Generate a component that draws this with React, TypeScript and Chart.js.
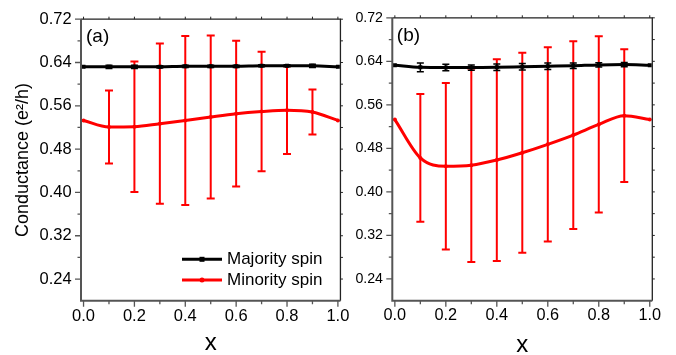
import React, { useEffect, useRef } from "react";
import { Chart, registerables } from "chart.js";

Chart.register(...registerables);

const FONT = "'Liberation Sans', Arial, Helvetica, sans-serif";

// ---------- data ----------
const xValues = [0, 0.1, 0.2, 0.3, 0.4, 0.5, 0.6, 0.7, 0.8, 0.9, 1.0];

const aMajority = [0.632, 0.632, 0.632, 0.632, 0.633, 0.633, 0.633, 0.634, 0.634, 0.634, 0.632];
const aMajorityErr = [0, 0.003, 0.003, 0.002, 0.002, 0.002, 0.002, 0.002, 0.002, 0.003, 0];
const aMinority = [0.533, 0.521, 0.5215, 0.527, 0.533, 0.5395, 0.5455, 0.5495, 0.552, 0.5485, 0.533];
const aMinorityErr = [0, 0.0675, 0.1205, 0.148, 0.156, 0.1505, 0.1345, 0.1105, 0.081, 0.0415, 0];

const bMajority = [0.633, 0.629, 0.6285, 0.6285, 0.629, 0.63, 0.631, 0.632, 0.6335, 0.634, 0.633];
const bMajorityErr = [0, 0.008, 0.006, 0.005, 0.006, 0.006, 0.006, 0.005, 0.004, 0.004, 0];
const bMinority = [0.533, 0.4625, 0.447, 0.449, 0.4585, 0.472, 0.4875, 0.5045, 0.524, 0.54, 0.533];
const bMinorityErr = [0, 0.1175, 0.153, 0.178, 0.1855, 0.184, 0.1785, 0.1725, 0.162, 0.122, 0];

const yTicks = [0.24, 0.32, 0.4, 0.48, 0.56, 0.64, 0.72];
const yMinorTicks = [0.28, 0.36, 0.44, 0.52, 0.6, 0.68];
const xTicks = [0, 0.2, 0.4, 0.6, 0.8, 1.0];
const xMinorTicks = [0.1, 0.3, 0.5, 0.7, 0.9];

const seriesNames = ["Majority spin", "Minority spin"];
const panelLabels = ["(a)", "(b)"];
const yTitle = "Conductance (e\u00B2/h)";
const xTitle = "x";

// ---------- plugins ----------
const errorBarPlugin = {
  id: "errorBars",
  beforeDatasetDraw(chart: any, args: any) {
    const ds: any = chart.data.datasets[args.index];
    const errs: number[] | undefined = ds.errors;
    if (!errs) return;
    const ys = chart.scales.y;
    const ctx = chart.ctx;
    const area = chart.chartArea;
    ctx.save();
    ctx.beginPath();
    ctx.rect(area.left, area.top - 2, area.right - area.left, area.bottom - area.top + 4);
    ctx.clip();
    ctx.strokeStyle = ds.borderColor;
    ctx.lineWidth = ds.errorWidth;
    const c = ds.capHalf;
    args.meta.data.forEach((pt: any, i: number) => {
      const e = errs[i];
      if (!e) return;
      const v = ds.data[i].y;
      const top = ys.getPixelForValue(v + e);
      const bot = ys.getPixelForValue(v - e);
      const x = pt.x;
      ctx.beginPath();
      ctx.moveTo(x, top);
      ctx.lineTo(x, bot);
      ctx.moveTo(x - c, top);
      ctx.lineTo(x + c, top);
      ctx.moveTo(x - c, bot);
      ctx.lineTo(x + c, bot);
      ctx.stroke();
    });
    ctx.restore();
  },
};

const framePlugin = {
  id: "frame",
  afterDatasetsDraw(chart: any) {
    const { ctx, chartArea: a } = chart;
    const xs = chart.scales.x;
    const ys = chart.scales.y;
    ctx.save();
    // top/right
    ctx.strokeStyle = "#222";
    ctx.lineWidth = 1.3;
    ctx.beginPath();
    ctx.moveTo(a.left, a.top);
    ctx.lineTo(a.right, a.top);
    ctx.lineTo(a.right, a.bottom);
    ctx.stroke();
    // small outward ticks top/right
    ctx.lineWidth = 1;
    ctx.beginPath();
    [...xTicks, ...xMinorTicks].forEach((v) => {
      const px = xs.getPixelForValue(v);
      ctx.moveTo(px, a.top);
      ctx.lineTo(px, a.top - 2.5);
    });
    [...yTicks, ...yMinorTicks].forEach((v) => {
      const py = ys.getPixelForValue(v);
      ctx.moveTo(a.right, py);
      ctx.lineTo(a.right + 2.5, py);
    });
    ctx.stroke();
    // left/bottom axes
    ctx.strokeStyle = "#555";
    ctx.lineWidth = 2;
    ctx.beginPath();
    ctx.moveTo(a.left, a.top);
    ctx.lineTo(a.left, a.bottom);
    ctx.lineTo(a.right, a.bottom);
    ctx.stroke();
    ctx.lineWidth = 1.3;
    ctx.beginPath();
    yTicks.forEach((v) => {
      const py = ys.getPixelForValue(v);
      ctx.moveTo(a.left, py);
      ctx.lineTo(a.left - 6, py);
    });
    yMinorTicks.forEach((v) => {
      const py = ys.getPixelForValue(v);
      ctx.moveTo(a.left, py);
      ctx.lineTo(a.left - 3.5, py);
    });
    xTicks.forEach((v) => {
      const px = xs.getPixelForValue(v);
      ctx.moveTo(px, a.bottom);
      ctx.lineTo(px, a.bottom + 6);
    });
    xMinorTicks.forEach((v) => {
      const px = xs.getPixelForValue(v);
      ctx.moveTo(px, a.bottom);
      ctx.lineTo(px, a.bottom + 3.5);
    });
    ctx.stroke();
    ctx.restore();
  },
};

const panelLabelPlugin = {
  id: "panelLabel",
  afterDraw(chart: any, _args: any, opts: any) {
    const { ctx, chartArea: a } = chart;
    ctx.save();
    ctx.fillStyle = "#000";
    ctx.font = `19px ${FONT}`;
    ctx.textAlign = "left";
    ctx.textBaseline = "middle";
    ctx.fillText(opts.text, a.left + opts.dx, a.top + 17.5);
    ctx.restore();
  },
};

const legendPlugin = {
  id: "customLegend",
  afterDraw(chart: any, _args: any, opts: any) {
    if (!opts.show) return;
    const { ctx, chartArea: a } = chart;
    const items = chart.data.datasets.map((ds: any) => ({
      label: ds.label,
      color: ds.borderColor,
      style: ds.pointStyle,
    }));
    ctx.save();
    items.forEach((it: any, i: number) => {
      const y = a.bottom - 41.4 + i * 20.7;
      const x0 = a.left + 101;
      const x1 = a.left + 141;
      ctx.strokeStyle = it.color;
      ctx.lineWidth = 3;
      ctx.beginPath();
      ctx.moveTo(x0, y);
      ctx.lineTo(x1, y);
      ctx.stroke();
      ctx.fillStyle = it.color;
      const cx = (x0 + x1) / 2;
      if (it.style === "rect") {
        ctx.fillRect(cx - 2.5, y - 2.5, 5, 5);
      } else {
        ctx.beginPath();
        ctx.arc(cx, y, 2.5, 0, Math.PI * 2);
        ctx.fill();
      }
      ctx.fillStyle = "#000";
      ctx.font = `17px ${FONT}`;
      ctx.textAlign = "left";
      ctx.textBaseline = "middle";
      ctx.fillText(it.label, a.left + 146, y + 0.5);
    });
    ctx.restore();
  },
};

// ---------- config ----------
type PanelSpec = {
  label: string;
  dx: number;
  major: number[];
  majorErr: number[];
  minor: number[];
  minorErr: number[];
  yAxisWidth: number;
  padRight: number;
  yTickSize: number;
  xTickSize: number;
  showTitle: boolean;
  showLegend: boolean;
  xTitleLH: number;
};

function makeConfig(p: PanelSpec): any {
  const toPts = (arr: number[]) => xValues.map((x, i) => ({ x, y: arr[i] }));
  return {
    type: "line",
    data: {
      datasets: [
        {
          label: seriesNames[0],
          data: toPts(p.major),
          errors: p.majorErr,
          errorWidth: 1.5,
          capHalf: 3.5,
          borderColor: "#000000",
          backgroundColor: "#000000",
          borderWidth: 3,
          pointStyle: "rect",
          pointRadius: 2.8,
          pointBorderWidth: 0,
          cubicInterpolationMode: "monotone",
        },
        {
          label: seriesNames[1],
          data: toPts(p.minor),
          errors: p.minorErr,
          errorWidth: 2,
          capHalf: 4,
          borderColor: "#ff0000",
          backgroundColor: "#ff0000",
          borderWidth: 3,
          pointStyle: "circle",
          pointRadius: 2,
          pointBorderWidth: 0,
          cubicInterpolationMode: "monotone",
        },
      ],
    },
    options: {
      animation: false,
      responsive: false,
      maintainAspectRatio: false,
      events: [],
      layout: { padding: { left: 0, right: p.padRight, top: 14.7, bottom: 0 } },
      plugins: {
        legend: { display: false },
        tooltip: { enabled: false },
        panelLabel: { text: p.label, dx: p.dx },
        customLegend: { show: p.showLegend },
      },
      scales: {
        x: {
          type: "linear",
          min: -0.01,
          max: 1.01,
          afterBuildTicks: (s: any) => {
            s.ticks = xTicks.map((v) => ({ value: v }));
          },
          afterFit: (s: any) => {
            s.height = 54.3;
          },
          grid: { display: false, drawTicks: false },
          border: { display: false },
          ticks: {
            padding: 5.5,
            color: "#000",
            font: { family: FONT, size: p.xTickSize },
            maxRotation: 0,
            autoSkip: false,
            callback: (v: any) => Number(v).toFixed(1),
          },
          title: {
            display: true,
            text: xTitle,
            color: "#000",
            font: { family: FONT, size: 24, lineHeight: p.xTitleLH },
            padding: { top: 0, bottom: 0 },
          },
        },
        y: {
          type: "linear",
          min: 0.2,
          max: 0.72,
          afterBuildTicks: (s: any) => {
            s.ticks = yTicks.map((v) => ({ value: v }));
          },
          afterFit: (s: any) => {
            s.width = p.yAxisWidth;
          },
          grid: { display: false, drawTicks: false },
          border: { display: false },
          ticks: {
            padding: 9.3,
            color: "#000",
            font: { family: FONT, size: p.yTickSize },
            callback: (v: any) => Number(v).toFixed(2),
          },
          title: {
            display: p.showTitle,
            text: yTitle,
            color: "#000",
            font: { family: FONT, size: 18 },
            padding: { top: 12.5, bottom: 0 },
          },
        },
      },
    },
    plugins: [errorBarPlugin, framePlugin, panelLabelPlugin, legendPlugin],
  };
}

const panelA: PanelSpec = {
  label: panelLabels[0],
  dx: 5,
  major: aMajority,
  majorErr: aMajorityErr,
  minor: aMinority,
  minorErr: aMinorityErr,
  yAxisWidth: 81,
  padRight: 14,
  yTickSize: 16.5,
  xTickSize: 16.5,
  showTitle: true,
  showLegend: true,
  xTitleLH: 1.0,
};

const panelB: PanelSpec = {
  label: panelLabels[1],
  dx: 4.5,
  major: bMajority,
  majorErr: bMajorityErr,
  minor: bMinority,
  minorErr: bMinorityErr,
  yAxisWidth: 37.3,
  padRight: 23.7,
  yTickSize: 14.2,
  xTickSize: 16.3,
  showTitle: false,
  showLegend: false,
  xTitleLH: 0.8,
};

function Panel({ spec, left, width }: { spec: PanelSpec; left: number; width: number }) {
  const ref = useRef<HTMLCanvasElement | null>(null);
  useEffect(() => {
    if (!ref.current) return;
    const chart = new Chart(ref.current, makeConfig(spec));
    return () => chart.destroy();
  }, [spec]);
  return (
    <canvas
      ref={ref}
      width={width}
      height={355}
      style={{ position: "absolute", left, top: 0, width, height: 355, display: "block" }}
    />
  );
}

export default function App() {
  return (
    <div
      style={{
        position: "fixed",
        left: 0,
        top: 0,
        width: 676,
        height: 355,
        background: "#fff",
        overflow: "hidden",
      }}
    >
      <Panel spec={panelA} left={0} width={355} />
      <Panel spec={panelB} left={355} width={321} />
    </div>
  );
}
